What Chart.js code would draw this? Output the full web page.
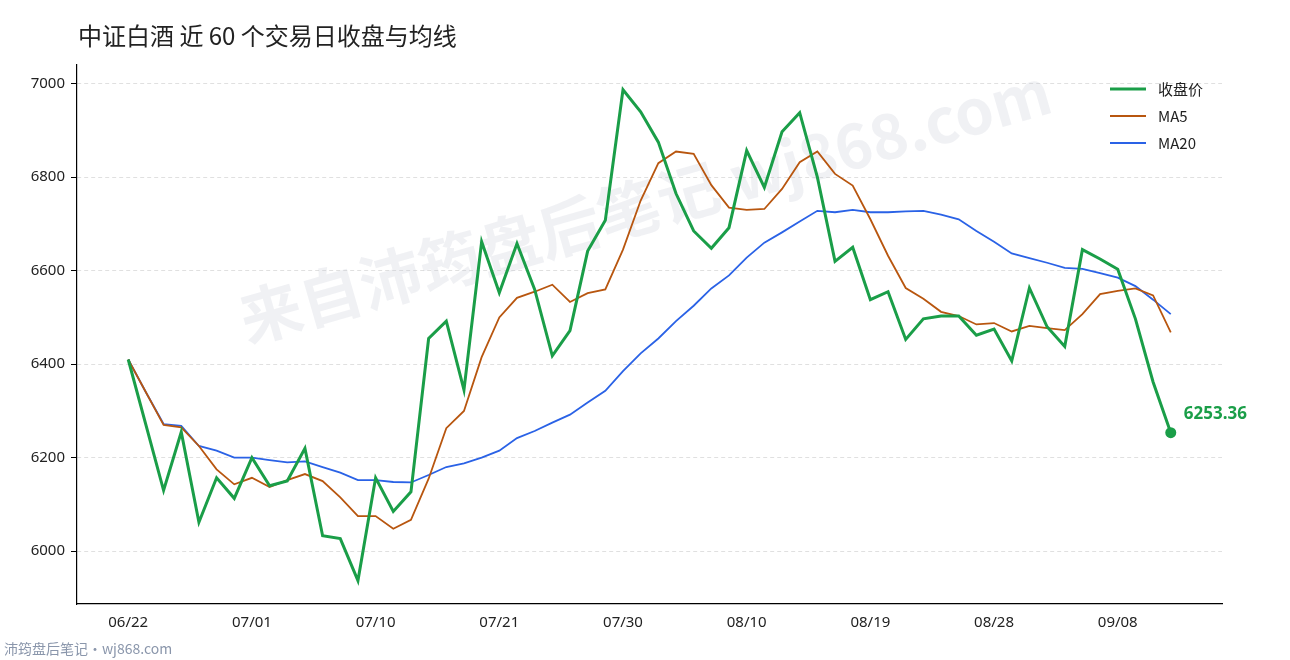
<!DOCTYPE html>
<html>
<head>
<meta charset="utf-8">
<script src="https://cdn.jsdelivr.net/npm/chart.js@4.4.1/dist/chart.umd.min.js"></script>
<style>
  html, body { margin: 0; padding: 0; background: #fff; }
  #wrap { position: relative; width: 1290px; height: 660px; }
</style>
</head>
<body>
<div id="wrap"><canvas id="c" width="1290" height="660"></canvas></div>
<script>
// Trading days (60)
const dates = [
  '06/22','06/23','06/24','06/25','06/26','06/29','06/30','07/01','07/02','07/03',
  '07/06','07/07','07/08','07/09','07/10','07/13','07/14','07/15','07/16','07/17',
  '07/20','07/21','07/22','07/23','07/24','07/27','07/28','07/29','07/30','07/31',
  '08/03','08/04','08/05','08/06','08/07','08/10','08/11','08/12','08/13','08/14',
  '08/17','08/18','08/19','08/20','08/21','08/24','08/25','08/26','08/27','08/28',
  '08/31','09/01','09/02','09/03','09/04','09/07','09/08','09/09','09/10','09/11'
];

const close = [
  6410, 6270, 6130, 6255, 6062, 6157, 6113, 6200, 6140, 6150,
  6220, 6033, 6027, 5937, 6157, 6085, 6127, 6455, 6492, 6345,
  6662, 6553, 6658, 6560, 6418, 6472, 6642, 6708, 6987, 6940,
  6875, 6765, 6685, 6648, 6692, 6857, 6778, 6897, 6938, 6800,
  6620, 6650, 6538, 6555, 6453, 6497, 6503, 6503, 6462, 6475,
  6407, 6563, 6480, 6438, 6645, 6625, 6603, 6497, 6362, 6253.36
];

const ma5 = [
  6410, 6340, 6270, 6265, 6225, 6175, 6143, 6157, 6137, 6152,
  6165, 6150, 6115, 6075, 6075, 6048, 6067, 6155, 6263, 6300,
  6415, 6500, 6542, 6555, 6570, 6533, 6552, 6560, 6645, 6750,
  6830, 6855, 6850, 6783, 6735, 6730, 6732, 6775, 6832, 6855,
  6807, 6782, 6710, 6632, 6563, 6540, 6512, 6503, 6485, 6488,
  6470, 6482, 6477, 6473, 6507, 6550, 6557, 6562, 6547, 6468
];

const ma20 = [
  6410, 6340, 6272, 6268, 6225, 6215, 6200, 6200, 6195, 6190,
  6192, 6180, 6168, 6152, 6152, 6148, 6147, 6163, 6180, 6188,
  6200, 6215, 6242, 6257, 6275, 6292, 6318, 6343, 6385, 6423,
  6455, 6492, 6525, 6562, 6590, 6628, 6660, 6682, 6705, 6728,
  6725, 6730, 6725, 6725, 6727, 6728, 6720, 6710, 6685, 6662,
  6637, 6627, 6617, 6606, 6604, 6595, 6585, 6567, 6538, 6507
];

const yTicks = [6000, 6200, 6400, 6600, 6800, 7000];

const GREEN = '#1a9e48';
const ORANGE = '#b8560f';
const BLUE = '#2a62e6';
const FONT = "'Noto Sans', 'Noto Sans CJK SC', sans-serif";
const CJK = "'Noto Sans CJK SC', sans-serif";

const pts = arr => arr.map((y, i) => ({ x: i, y }));

const decor = {
  id: 'decor',
  beforeDatasetsDraw(chart) {
    const { ctx } = chart;
    ctx.save();
    ctx.translate(645, 205);
    ctx.rotate(-16 * Math.PI / 180);
    ctx.font = "bold 62px " + CJK;
    ctx.fillStyle = 'rgba(200,205,215,0.28)';
    ctx.textAlign = 'center';
    ctx.textBaseline = 'middle';
    ctx.fillText('来自沛筠盘后笔记 wj868.com', 0, 0);
    ctx.restore();
  },
  afterDatasetsDraw(chart) {
    const { ctx } = chart;
    const meta = chart.getDatasetMeta(0);
    const p = meta.data[meta.data.length - 1];
    ctx.save();
    ctx.fillStyle = GREEN;
    ctx.beginPath();
    ctx.arc(p.x, p.y, 5.5, 0, Math.PI * 2);
    ctx.fill();
    ctx.font = "bold 17px " + FONT;
    ctx.textBaseline = 'middle';
    ctx.fillText(close[close.length - 1].toFixed(2), p.x + 13, p.y - 19);

    // title
    ctx.fillStyle = '#222';
    ctx.font = "24px " + CJK;
    ctx.fillText('中证白酒 近 60 个交易日收盘与均线', 78, 36);

    // legend
    ctx.font = "15px " + CJK;
    chart.data.datasets.forEach((d, i) => {
      const y = 89 + i * 27;
      ctx.strokeStyle = d.borderColor;
      ctx.lineWidth = d.borderWidth;
      ctx.beginPath();
      ctx.moveTo(1110, y);
      ctx.lineTo(1146, y);
      ctx.stroke();
      ctx.fillStyle = '#222';
      ctx.fillText(d.label, 1158, y);
    });

    // footer
    ctx.font = "14px " + CJK;
    ctx.fillStyle = '#8a96ab';
    ctx.textBaseline = 'alphabetic';
    ctx.fillText('沛筠盘后笔记·wj868.com', 4, 654);
    ctx.restore();
  }
};

new Chart(document.getElementById('c'), {
  type: 'line',
  data: {
    datasets: [
      { label: '收盘价', data: pts(close), borderColor: GREEN, backgroundColor: GREEN, borderWidth: 3, pointRadius: 0, tension: 0 },
      { label: 'MA5', data: pts(ma5), borderColor: ORANGE, backgroundColor: ORANGE, borderWidth: 1.8, pointRadius: 0, tension: 0 },
      { label: 'MA20', data: pts(ma20), borderColor: BLUE, backgroundColor: BLUE, borderWidth: 1.8, pointRadius: 0, tension: 0 }
    ]
  },
  options: {
    responsive: false,
    animation: false,
    layout: { padding: { left: 0, right: 68, top: 65, bottom: 24 } },
    plugins: {
      title: { display: false },
      legend: { display: false },
      tooltip: { enabled: false }
    },
    scales: {
      x: {
        type: 'linear',
        min: -2.9, max: 61.9,
        afterBuildTicks(axis) {
          axis.ticks = dates.map((d, i) => i).filter(i => i % 7 === 0).map(v => ({ value: v }));
        },
        grid: { display: false, drawTicks: true, tickLength: 6, tickColor: '#000' },
        border: { color: '#000', width: 1.2 },
        ticks: {
          maxRotation: 0, color: '#222', padding: 4,
          font: { family: FONT, size: 15 },
          callback(v) { return dates[v]; }
        }
      },
      y: {
        min: 5887, max: 7040,
        afterFit(axis) { axis.width = 77; },
        afterBuildTicks(axis) { axis.ticks = yTicks.map(v => ({ value: v })); },
        grid: { color: '#e0e0e0', tickLength: 6, drawTicks: true, tickColor: '#000' },
        border: { color: '#000', width: 1.2, dash: [4, 3] },
        ticks: { color: '#222', font: { family: FONT, size: 15 }, padding: 6, callback: v => String(v) }
      }
    }
  },
  plugins: [decor]
});
</script>
</body>
</html>
